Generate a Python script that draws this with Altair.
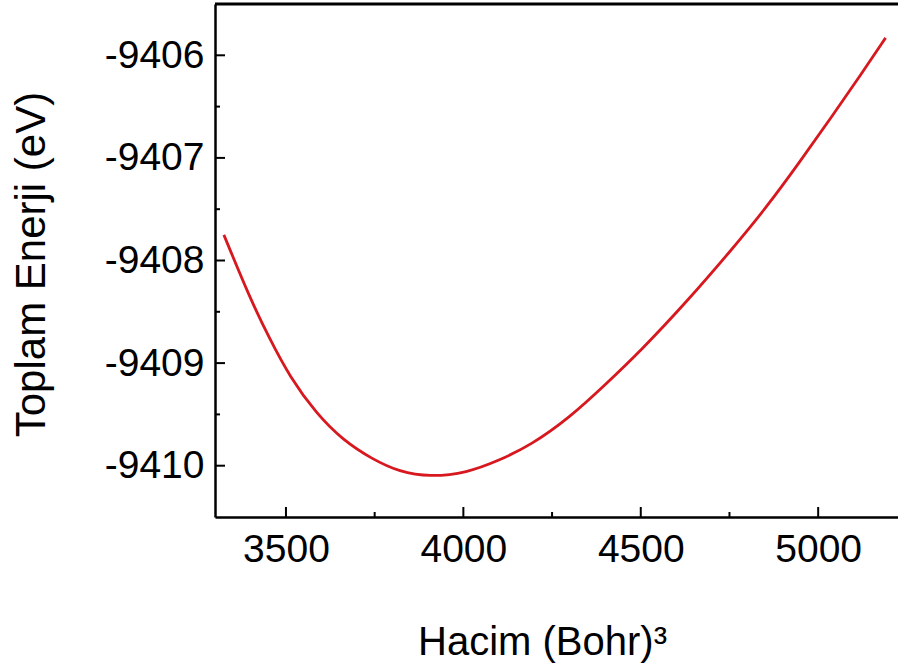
import altair as alt
import pandas as pd

# Curve
volume = [3325, 3400, 3455, 3510, 3585, 3660, 3745, 3820, 3905, 4010, 4100, 4190,
          4300, 4400, 4500, 4630, 4750, 4855, 4950, 5040, 5120, 5190]
energy = [-9407.75, -9408.38, -9408.77, -9409.13, -9409.49, -9409.75, -9409.94,
          -9410.06, -9410.11, -9410.07, -9409.95, -9409.80, -9409.53, -9409.21,
          -9408.88, -9408.40, -9407.92, -9407.48, -9407.03, -9406.59, -9406.19,
          -9405.83]

x_major = [3500, 4000, 4500, 5000]
x_minor = [3750, 4250, 4750]
y_major = [-9406, -9407, -9408, -9409, -9410]
y_minor = [-9406.5, -9407.5, -9408.5, -9409.5]

W, H = 683, 513
FONT = "Liberation Sans"
FS = 39

xscale = alt.Scale(domain=[3300, 5225], nice=False, zero=False)
yscale = alt.Scale(domain=[-9410.5, -9405.5], nice=False, zero=False)

xaxis = alt.Axis(values=x_major, format="d", ticks=False, tickSize=0, grid=False,
                 domainColor="black", domainWidth=2.5, labelPadding=13,
                 labelFont=FONT, labelFontSize=FS, labelColor="black",
                 title="Hacim (Bohr)³", titleFont=FONT, titleFontSize=40,
                 titleFontWeight="normal", titleColor="black",
                 titleX=327, titleY=137, titleBaseline="alphabetic", titleAlign="center")
yaxis = alt.Axis(values=y_major, format="d", ticks=False, tickSize=0, grid=False,
                 labelExpr="replace(datum.label, '\u2212', '-')",
                 domainColor="black", domainWidth=2.5, labelPadding=11,
                 labelFont=FONT, labelFontSize=FS, labelColor="black",
                 title="Toplam Enerji (eV)", titleFont=FONT, titleFontSize=42,
                 titleFontWeight="normal", titleColor="black", titleAngle=270,
                 titleX=-184, titleY=260, titleBaseline="middle", titleAlign="center")

df = pd.DataFrame({"V": volume, "E": energy})

line = alt.Chart(df).mark_line(color="#d7191f", strokeWidth=2.8, interpolate="basis", clip=True).encode(
    x=alt.X("V:Q", scale=xscale, axis=xaxis),
    y=alt.Y("E:Q", scale=yscale, axis=yaxis),
)

def xticks(vals, length):
    return alt.Chart(pd.DataFrame({"V": vals})).mark_rule(color="black", strokeWidth=2).encode(
        x=alt.X("V:Q", scale=xscale, axis=xaxis),
        y=alt.value(H), y2=alt.value(H - length))

def yticks(vals, length):
    return alt.Chart(pd.DataFrame({"E": vals})).mark_rule(color="black", strokeWidth=2).encode(
        y=alt.Y("E:Q", scale=yscale, axis=yaxis),
        x=alt.value(0), x2=alt.value(length))

top = alt.Chart(pd.DataFrame({"a": [0]})).mark_rule(color="black", strokeWidth=3).encode(
    x=alt.value(0), x2=alt.value(W), y=alt.value(0))

chart = alt.layer(line, xticks(x_major, 10), xticks(x_minor, 5), yticks(y_major, 10),
                  yticks(y_minor, 5), top).properties(
    width=W, height=H,
    autosize=alt.AutoSizeParams(type="none"),
    padding={"left": 215, "top": 4, "right": 0, "bottom": 153},
    background="white",
).configure_view(stroke=None)

chart.save("out.html", embed_options={"renderer": "svg", "actions": False})
